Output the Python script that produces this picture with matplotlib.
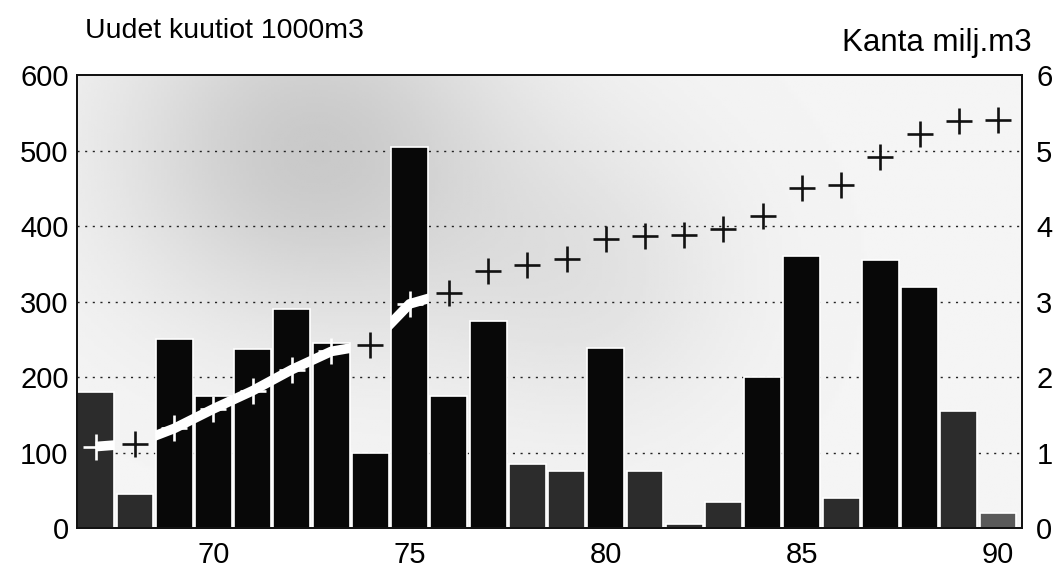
import numpy as np
import matplotlib
matplotlib.use("Agg")
import matplotlib.pyplot as plt
from matplotlib.path import Path

plt.rcParams["font.family"] = ["Liberation Sans", "DejaVu Sans"]

# data <<<
years = list(range(67, 91))
new_volume = [180, 45, 250, 175, 237, 290, 245, 100, 505, 175, 275, 85,
              75, 238, 75, 5, 35, 200, 360, 40, 355, 320, 155, 20]
stock = [1.08, 1.12, 1.32, 1.58, 1.82, 2.1, 2.34, 2.43, 2.97, 3.12, 3.41, 3.49,
         3.57, 3.83, 3.87, 3.88, 3.96, 4.14, 4.5, 4.55, 4.91, 5.22, 5.39, 5.4]
left_ticks = [0, 100, 200, 300, 400, 500, 600]
right_ticks = [0, 1, 2, 3, 4, 5, 6]
x_ticks = [70, 75, 80, 85, 90]
left_title = "Uudet kuutiot 1000m3"
right_title = "Kanta milj.m3"
# >>>

# bar shading (stippled grey vs solid black)
grey_years = {67, 68, 78, 79, 81, 82, 83, 86, 89}
light_years = {90}
bar_colors = ["#5a5a5a" if y in light_years else "#2c2c2c" if y in grey_years
              else "#080808" for y in years]

# plot <<<
fig = plt.figure(figsize=(10.54, 5.74), dpi=100)
ax = fig.add_axes([0.073, 0.08, 0.897, 0.789])
xlim = (66.52, 90.62)
ax.set_xlim(*xlim)
ax.set_ylim(0, 600)

# stippled background with darker cloud near the top
gx = np.linspace(xlim[0], xlim[1], 300)
gy = np.linspace(0, 600, 200)
GX, GY = np.meshgrid(gx, gy)
r1 = ((GX - 72.5) / 5.0) ** 2 + ((GY - 500) / 230) ** 2
r2 = ((GX - 79.5) / 4.0) ** 2 + ((GY - 330) / 200) ** 2
shade = 0.96 - 0.17 * np.exp(-r1) - 0.07 * np.exp(-r2)
ax.imshow(shade, extent=(xlim[0], xlim[1], 0, 600), origin="lower",
          aspect="auto", cmap="gray", vmin=0, vmax=1, zorder=0)

for v in left_ticks[1:-1]:
    ax.axhline(v, color="#222222", lw=1.0, linestyle=(0, (1.5, 4)), zorder=1)

bars = ax.bar(years, new_volume, width=0.94, color=bar_colors,
              edgecolor="white", linewidth=1.2, zorder=2)

ax.set_xticks(x_ticks)
ax.set_yticks(left_ticks)
ax.tick_params(length=0, labelsize=21)
ax.tick_params(axis="y", pad=6)
ax.tick_params(axis="x", pad=9)
for s in ax.spines.values():
    s.set_color("#111111")
    s.set_linewidth(1.3)

ax2 = ax.twinx()
ax2.set_ylim(0, 6)
ax2.set_yticks(right_ticks)
ax2.tick_params(length=0, labelsize=21, pad=10)
for s in ax2.spines.values():
    s.set_color("#111111")
    s.set_linewidth(1.3)

# white trace, only visible where it crosses the bars
clip = Path.make_compound_path(*[Path(b.get_bbox().corners()[[0, 1, 3, 2, 0]],
                                      closed=True) for b in bars])
trace, = ax2.plot(years[:10], stock[:10], color="white", lw=7,
                  solid_capstyle="butt", zorder=3)
trace.set_clip_path(clip, ax.transData)

marker_colors = ["white" if s * 100 < v else "#111111"
                 for s, v in zip(stock, new_volume)]
for x, s, c in zip(years, stock, marker_colors):
    ax2.plot(x, s, marker="+", markersize=19, markeredgewidth=1.9, color=c,
             linestyle="none", zorder=4)

fig.text(85 / 1054, 1 - 31 / 574, left_title, fontsize=20.5, ha="left", va="center")
fig.text(1032 / 1054, 1 - 43 / 574, right_title, fontsize=22.5, ha="right", va="center")

fig.savefig("out.png", dpi=100)
# >>>
